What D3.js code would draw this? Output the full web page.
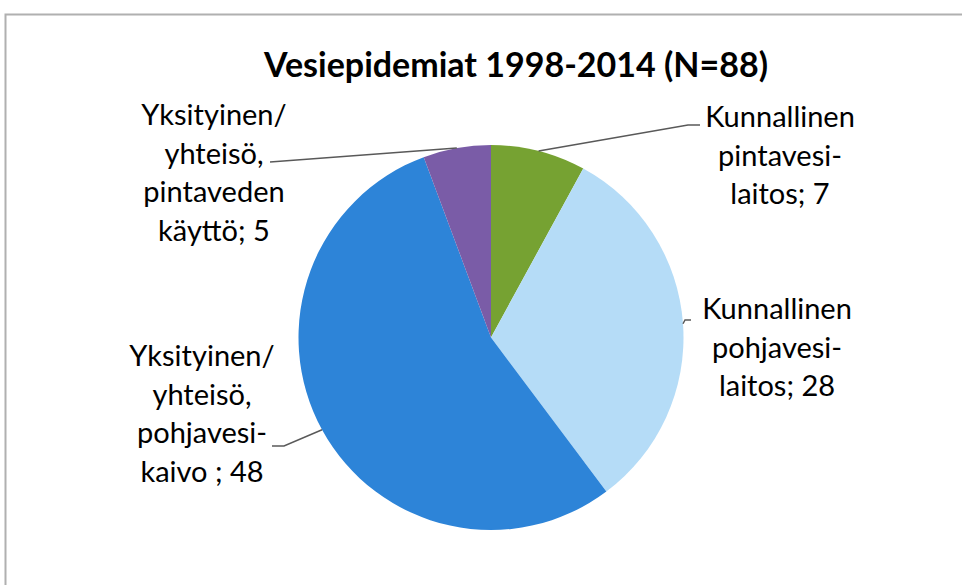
<!DOCTYPE html>
<html>
<head>
<meta charset="utf-8">
<script src="https://cdn.jsdelivr.net/npm/d3@7"></script>
<style>
  html, body { margin: 0; padding: 0; background: #fff; }
  svg { display: block; }
</style>
</head>
<body>
<div class="outer-container"></div>
<script>
const title = 'Vesiepidemiat 1998-2014 (N=88)'

const categories = [
  'Kunnallinen pintavesilaitos',
  'Kunnallinen pohjavesilaitos',
  'Yksityinen/yhteisö, pohjavesikaivo',
  'Yksityinen/yhteisö, pintaveden käyttö'
]
const values = [7, 28, 48, 5]
const colors = ['#76a232', '#b5dcf7', '#2d84d8', '#7a5ca7']
const labelLines = [
  ['Kunnallinen', 'pintavesi-', 'laitos; 7'],
  ['Kunnallinen', 'pohjavesi-', 'laitos; 28'],
  ['Yksityinen/', 'yhteisö,', 'pohjavesi-', 'kaivo ; 48'],
  ['Yksityinen/', 'yhteisö,', 'pintaveden', 'käyttö; 5']
]

document.addEventListener('DOMContentLoaded', () => {
  const w = 962
  const h = 585
  const cx = 491
  const cy = 337.5
  const r = 192.5
  const lineH = 38.7

  // label block placement (centre x, first baseline) and leader line elbow
  const labelPos = [
    { x: 780, y: 127, elbow: [688, 125], end: [700, 125] },
    { x: 777, y: 319, elbow: [685, 320], end: [691, 320] },
    { x: 202, y: 366, elbow: [284, 446], end: [272, 446] },
    { x: 214, y: 125, elbow: [270, 162], end: [270, 162] }
  ]

  const svg = d3.select('.outer-container')
    .append('svg')
    .attr('width', w)
    .attr('height', h)

  // chart frame
  svg.append('path')
    .attr('d', `M5.5,${h + 5} V14.5 H${w + 5}`)
    .attr('fill', 'none')
    .attr('stroke', '#b0b0b0')
    .attr('stroke-width', 2)

  svg.append('text')
    .attr('x', 516)
    .attr('y', 77)
    .attr('text-anchor', 'middle')
    .attr('font-family', 'Lato, sans-serif')
    .attr('font-weight', 'bold')
    .attr('font-size', 34)
    .attr('fill', '#000')
    .text(title)

  const pie = d3.pie().sort(null).value(d => d)
  const arcs = pie(values)

  const arc = d3.arc().innerRadius(0).outerRadius(r)
  const edge = d3.arc().innerRadius(r).outerRadius(r)

  const g = svg.append('g')
    .attr('transform', `translate(${cx},${cy})`)

  g.selectAll('path.slice')
    .data(arcs)
    .enter()
    .append('path')
    .attr('class', 'slice')
    .attr('d', arc)
    .attr('fill', (d, i) => colors[i])

  // leader lines
  svg.selectAll('path.leader')
    .data(arcs)
    .enter()
    .append('path')
    .attr('class', 'leader')
    .attr('d', (d, i) => {
      const c = edge.centroid(d)
      const p = labelPos[i]
      return `M${cx + c[0]},${cy + c[1]} L${p.elbow[0]},${p.elbow[1]} L${p.end[0]},${p.end[1]}`
    })
    .attr('fill', 'none')
    .attr('stroke', '#595959')
    .attr('stroke-width', 1.5)

  const labels = svg.selectAll('text.label')
    .data(labelLines)
    .enter()
    .append('text')
    .attr('class', 'label')
    .attr('text-anchor', 'middle')
    .attr('font-family', 'Lato, sans-serif')
    .attr('font-size', 29)
    .attr('fill', '#000')

  labels.selectAll('tspan')
    .data((d, i) => d.map((t, j) => ({ t, j, i })))
    .enter()
    .append('tspan')
    .attr('x', d => labelPos[d.i].x)
    .attr('y', d => labelPos[d.i].y + d.j * lineH)
    .text(d => d.t)
})
</script>
</body>
</html>
